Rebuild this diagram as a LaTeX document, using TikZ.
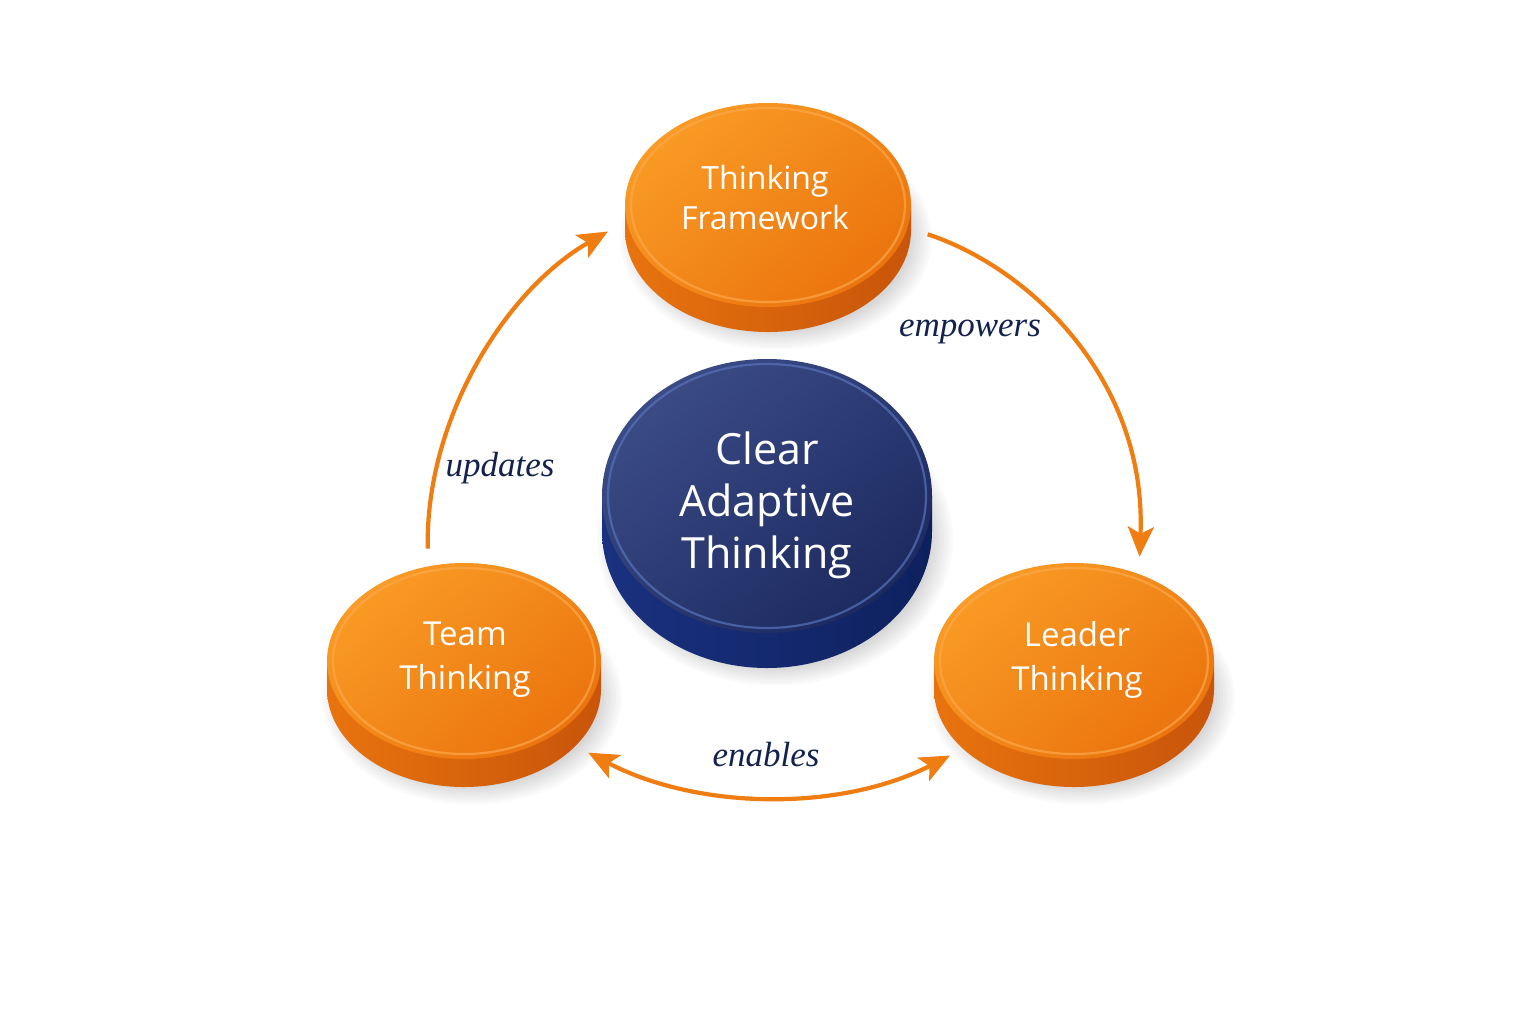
\documentclass[tikz,border=0pt]{standalone}
\usepackage{fontspec}
\setmainfont{Open Sans}
\newfontfamily\labelfont{Liberation Serif}
\usetikzlibrary{arrows.meta,shapes.geometric}
\definecolor{orTopL}{HTML}{F99B25}
\definecolor{orTopD}{HTML}{EB740E}
\definecolor{orSideL}{HTML}{E8730E}
\definecolor{orSideR}{HTML}{C8550A}
\definecolor{orRim}{HTML}{FCA84A}
\definecolor{blTopL}{HTML}{3B4B86}
\definecolor{blTopD}{HTML}{1C2A60}
\definecolor{blSideL}{HTML}{1A3180}
\definecolor{blSideR}{HTML}{0E215E}
\definecolor{blRim}{HTML}{5873BA}
\definecolor{arrowOr}{HTML}{EF7D12}
\definecolor{labelNavy}{HTML}{13214D}
\newcommand\mydisc[6]{%
  \foreach \k in {0,...,7}{\fill[black,opacity=0.02] (#1+8,#2+#5+8) ellipse[x radius={#3+3*\k-8}, y radius={#4+2.5*\k-8}];}
  \shade[left color=#6SideL,right color=#6SideR] (#1-#3,#2) rectangle (#1+#3,#2+#5);
  \shade[left color=#6SideL,right color=#6SideR] (#1,#2+#5) ellipse[x radius=#3,y radius=#4];
  \shade[top color=#6TopL,bottom color=#6TopD,shading angle=40] (#1,#2) ellipse[x radius=#3,y radius=#4];
  \draw[#6Rim,line width=1.1pt,opacity=.7] (#1,#2) ellipse[x radius=#3-6,y radius=#4-5];
}
\tikzset{
  discnode/.style={ellipse,inner sep=0pt,outer sep=9pt},
  disctext/.style={text=white,align=center,inner sep=0pt},
  lbl/.style={text=labelNavy,font=\labelfont\itshape\fontsize{17.5}{20}\selectfont,inner sep=1pt},
  arr/.style={draw=arrowOr,line width=2.1pt,-{Stealth[length=15pt,width=13pt,inset=3.5pt]}},
  arrboth/.style={draw=arrowOr,line width=2.1pt,{Stealth[length=15pt,width=13pt,inset=3.5pt]}-{Stealth[length=15pt,width=13pt,inset=3.5pt]}}
}
\begin{document}
\begin{tikzpicture}[x=0.5pt,y=-0.5pt]
\useasboundingbox (0,0) rectangle (1536,1024);
\fill[white] (0,0) rectangle (1536,1024);
% discs
\mydisc{768}{205}{143}{102}{25}{or}
\mydisc{767}{496}{165}{137}{35}{bl}
\mydisc{464}{661}{137}{98}{28}{or}
\mydisc{1074}{661}{140}{98}{28}{or}
% named disc nodes
\node[discnode,minimum width=143pt,minimum height=114.5pt] (tf) at (768,217.5) {};
\node[discnode,minimum width=165pt,minimum height=154.5pt] (ct) at (767,513.5) {};
\node[discnode,minimum width=137pt,minimum height=112pt] (tm) at (464,675) {};
\node[discnode,minimum width=140pt,minimum height=112pt] (ld) at (1074,675) {};
% texts
\node[disctext,font=\fontsize{16}{20}\selectfont] (tfT) at (765,197) {Thinking\\Framework};
\node[disctext,font=\fontsize{21.5}{26}\selectfont] (ctT) at (767,505) {Clear\\Adaptive\\Thinking};
\node[disctext,font=\fontsize{16.5}{22}\selectfont] (tmT) at (465,660) {Team\\Thinking};
\node[disctext,font=\fontsize{16.5}{22}\selectfont] (ldT) at (1077,660) {Leader\\Thinking};
% connectors
\draw[arr] (tm.106.7) .. controls (425,420) and (505,290) .. (tf.185.9);
\draw[arr] (tf.-6) .. controls (1030,268) and (1147,380) .. (ld.61.7);
\draw[arrboth] (tm.-32.8) .. controls (700,811) and (842,811) .. (ld.213.6);
% labels
\node[lbl] (lu) at (500,468) {updates};
\node[lbl] (le) at (970,332) {empowers};
\node[lbl] (ln) at (766,755) {enables};
\end{tikzpicture}
\end{document}
